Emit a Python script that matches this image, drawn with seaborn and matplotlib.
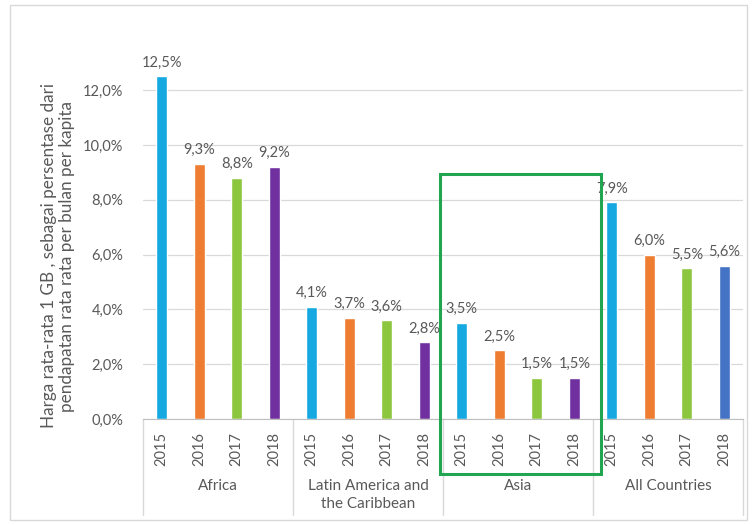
import matplotlib
matplotlib.use("Agg")
import matplotlib.pyplot as plt
from matplotlib.patches import Rectangle
import seaborn as sns
import pandas as pd

regions = ["Africa", "Latin America and\nthe Caribbean", "Asia", "All Countries"]
years = ["2015", "2016", "2017", "2018"]
africa = [12.5, 9.3, 8.8, 9.2]
latin_america = [4.1, 3.7, 3.6, 2.8]
asia = [3.5, 2.5, 1.5, 1.5]
all_countries = [7.9, 6.0, 5.5, 5.6]
y_ticks = [0, 2, 4, 6, 8, 10, 12]

year_colors = ["#16A8E0", "#EE7D31", "#8CC63F", "#7030A0"]
all_countries_2018_color = "#4472C4"

values = africa + latin_america + asia + all_countries
labels = years * len(regions)
slots = [str(i) for i in range(len(values))]
colors = year_colors * len(regions)
colors[-1] = all_countries_2018_color
df = pd.DataFrame({"slot": slots, "value": values, "year": labels})

sns.set_style("white")
plt.rcParams["font.family"] = ["Lato", "DejaVu Sans"]

W, H = 752, 525
fig = plt.figure(figsize=(W / 100, H / 100), dpi=100)
ax_left, ax_right, ax_top, ax_bottom = 143, 743, 49, 419
ax = fig.add_axes([ax_left / W, 1 - ax_bottom / H, (ax_right - ax_left) / W, (ax_bottom - ax_top) / H])

sns.barplot(data=df, x="slot", y="value", hue="slot", palette=colors, order=slots,
            width=0.3, legend=False, ax=ax, saturation=1)

grey = "#595959"
ax.set_ylim(0, 13.5)
ax.set_xlim(-0.5, len(values) - 0.5)
ax.set_yticks(y_ticks)
ax.set_yticklabels([f"{v:.1f}%".replace(".", ",") for v in y_ticks], color=grey, fontsize=10.5)
ax.yaxis.grid(True, color="#D9D9D9", linewidth=0.9)
ax.set_axisbelow(True)
for s in ["top", "right", "left"]:
    ax.spines[s].set_visible(False)
ax.spines["bottom"].set_color("#BFBFBF")
ax.tick_params(axis="y", length=0, pad=14)
ax.tick_params(axis="x", length=0, pad=9)
ax.set_xticks(range(len(values)))
ax.set_xticklabels(labels, rotation=90, color=grey, fontsize=10.5)
ax.set_xlabel("")
ax.set_ylabel("")

# value labels above each bar
for i, v in enumerate(values):
    ax.text(i, v + 0.25, f"{v:.1f}%".replace(".", ","), ha="center", va="bottom",
            color=grey, fontsize=10.5)

# group separators and region names below the axis
trans = ax.get_xaxis_transform()
depth = (515 - ax_bottom) / (ax_bottom - ax_top)
for k in range(len(regions) + 1):
    x = -0.5 + 4 * k
    ax.plot([x, x], [0, -depth], transform=trans, color="#D9D9D9", lw=1, clip_on=False)
for k, name in enumerate(regions):
    ax.text(1.5 + 4 * k, -(479 - ax_bottom) / (ax_bottom - ax_top), name, transform=trans,
            ha="center", va="top", color=grey, fontsize=11, linespacing=1.35)

# highlight box around Asia
y0 = -(474 - ax_bottom) / (ax_bottom - ax_top)
y1 = (ax_bottom - 174) / (ax_bottom - ax_top)
ax.add_patch(Rectangle((7.43, y0), 11.72 - 7.43, y1 - y0, transform=trans, fill=False,
                       edgecolor="#22A550", lw=2.2, clip_on=False, zorder=5))

fig.text(58 / W, 1 - 256 / H,
         "Harga rata-rata 1 GB , sebagai persentase dari\npendapatan rata rata per bulan per kapita",
         rotation=90, ha="center", va="center", color=grey, fontsize=12.3, linespacing=1.2)

# chart frame
fig.patches.append(Rectangle((10 / W, 1 - 520 / H), 737 / W, 515 / H, transform=fig.transFigure,
                             fill=False, edgecolor="#D9D9D9", lw=1))

fig.savefig("out.png", dpi=100)
